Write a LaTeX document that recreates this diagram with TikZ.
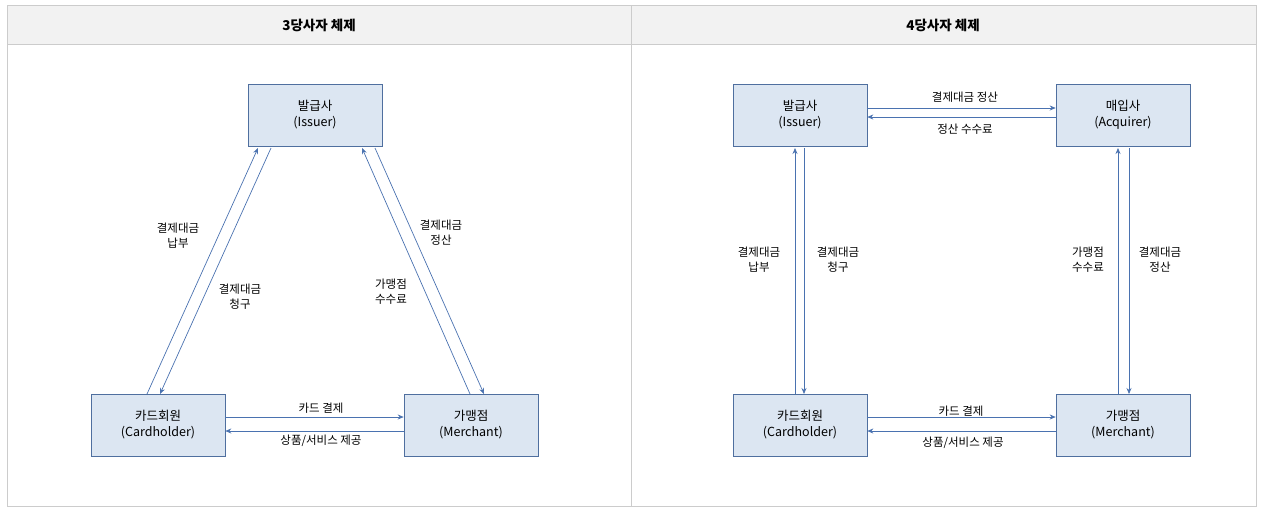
\documentclass[tikz,border=0pt]{standalone}
\usepackage{fontspec}
\setmainfont{Noto Sans CJK KR}
\usetikzlibrary{arrows.meta}
\definecolor{bx}{HTML}{DCE6F2}
\definecolor{bd}{HTML}{4F6F9F}
\definecolor{ar}{HTML}{4A72B0}
\definecolor{hd}{HTML}{F2F2F2}
\definecolor{fr}{HTML}{CCCCCC}
\begin{document}
\begin{tikzpicture}[x=1pt,y=-1pt,
 box/.style={draw=bd,fill=bx,minimum width=134pt,minimum height=62pt,align=center,font=\fontsize{12.5}{16}\selectfont,line width=0.6pt},
 lab/.style={align=center,font=\fontsize{11.5}{15}\selectfont},
 arr/.style={draw=ar,line width=0.7pt,-{Stealth[length=6pt,width=5pt]}},
 hdr/.style={font=\fontsize{13.5}{16}\selectfont\bfseries}]
\useasboundingbox (0,0) rectangle (1268,512);
\fill[hd] (7,5) rectangle (1256,44);
\draw[fr] (7,5) rectangle (1256,506);
\draw[fr] (7,44) -- (1256,44);
\draw[fr] (631,5) -- (631,506);
\node[hdr] (h1) at (319,25) {3당사자 체제};
\node[hdr] (h2) at (943,25) {4당사자 체제};
% left
\node[box] (i1) at (315,115) {발급사\\(Issuer)};
\node[box] (c1) at (158,425) {카드회원\\(Cardholder)};
\node[box] (m1) at (471,425) {가맹점\\(Merchant)};
\coordinate (a1) at (147,394); \coordinate (a2) at (258,148);
\coordinate (b1) at (271,148); \coordinate (b2) at (160,394);
\coordinate (d1) at (470,394); \coordinate (d2) at (362,148);
\coordinate (e1) at (375,148); \coordinate (e2) at (484,394);
\draw[arr] (a1) -- (a2);
\draw[arr] (b1) -- (b2);
\draw[arr] (d1) -- (d2);
\draw[arr] (e1) -- (e2);
\draw[arr] (c1.east|-0,417) -- (m1.west|-0,417);
\draw[arr] (m1.west|-0,431) -- (c1.east|-0,431);
\node[lab] (l1) at (178,236) {결제대금\\납부};
\node[lab] (l2) at (240,297) {결제대금\\청구};
\node[lab] (l3) at (441,233) {결제대금\\정산};
\node[lab] (l4) at (391,292) {가맹점\\수수료};
\node[lab] (l5) at (321,408) {카드 결제};
\node[lab] (l6) at (321,441) {상품/서비스 제공};
% right
\node[box] (i2) at (800,115) {발급사\\(Issuer)};
\node[box] (q2) at (1123,115) {매입사\\(Acquirer)};
\node[box] (c2) at (800,425) {카드회원\\(Cardholder)};
\node[box] (m2) at (1123,425) {가맹점\\(Merchant)};
\draw[arr] (i2.east|-0,108) -- (q2.west|-0,108);
\draw[arr] (q2.west|-0,117) -- (i2.east|-0,117);
\draw[arr] (795,394) -- (795,148);
\draw[arr] (804,148) -- (804,394);
\draw[arr] (1118,394) -- (1118,148);
\draw[arr] (1129,148) -- (1129,394);
\draw[arr] (c2.east|-0,417) -- (m2.west|-0,417);
\draw[arr] (m2.west|-0,431) -- (c2.east|-0,431);
\node[lab] (r1) at (965,97) {결제대금 정산};
\node[lab] (r2) at (965,129) {정산 수수료};
\node[lab] (r3) at (759,260) {결제대금\\납부};
\node[lab] (r4) at (838,260) {결제대금\\청구};
\node[lab] (r5) at (1088,260) {가맹점\\수수료};
\node[lab] (r6) at (1160,260) {결제대금\\정산};
\node[lab] (r7) at (961,411) {카드 결제};
\node[lab] (r8) at (963,443) {상품/서비스 제공};
\end{tikzpicture}
\end{document}
